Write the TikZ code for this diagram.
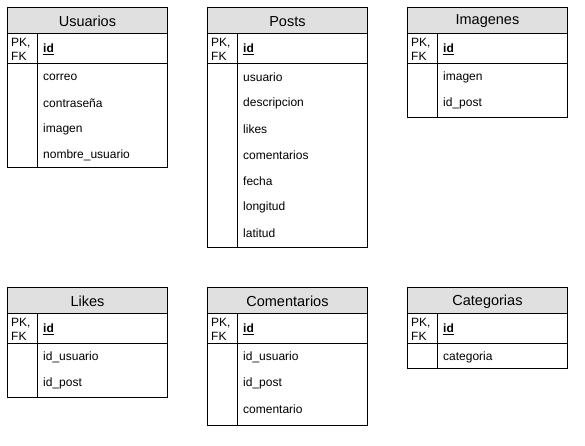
\documentclass[tikz,border=0pt]{standalone}
\usepackage{fontspec}
\setmainfont{Liberation Sans}
\definecolor{hdrgray}{HTML}{E0E0E0}
\tikzset{
  erdline/.style={draw=black, line width=0.9pt},
  hdr/.style={erdline, fill=hdrgray, minimum width=160pt, minimum height=26pt,
    anchor=north west, inner sep=0pt, font=\fontsize{14.5}{16}\selectfont},
  bodybox/.style={erdline, minimum width=160pt, anchor=north west, inner sep=0pt},
  pktext/.style={anchor=west, align=left, inner sep=0pt, font=\fontsize{12}{14}\selectfont},
  fldtext/.style={anchor=west, inner sep=0pt, font=\fontsize{12}{14}\selectfont},
}
% #1 name, #2 x, #3 y, #4 title, #5 body height, #6 fields
\newcommand\erdtable[6]{%
  \begin{scope}[shift={(#2,#3)}]
    \node[hdr] (#1-h) at (0,0) {};
    \node[inner sep=0pt, font=\fontsize{14.5}{16}\selectfont] (#1-t) at ([yshift=-1pt]#1-h.center) {#4};
    \node[bodybox, minimum height=30pt] (#1-pk) at (0,26) {};
    \node[bodybox, minimum height=#5pt] (#1-b) at (0,56) {};
    \draw[erdline] ([xshift=30pt]#1-pk.north west) -- ([xshift=30pt]#1-b.south west);
    \node[pktext] (#1-pkl) at ([xshift=4pt,yshift=-0.5pt]#1-pk.west) {PK,\\FK};
    \node[fldtext, font=\fontsize{12}{14}\selectfont\bfseries] (#1-id) at ([xshift=36pt,yshift=-0.5pt]#1-pk.west) {\underline{id}};
    \foreach \f [count=\i] in {#6}
      \node[fldtext] (#1-f\i) at ([xshift=36pt, yshift={-(14+(\i-1)*26)*1pt}]#1-b.north west) {\f};
  \end{scope}}
\begin{document}
\begin{tikzpicture}[x=1pt, y=-1pt]
  \useasboundingbox (0,0) rectangle (585,446);
  \erdtable{usuarios}{7}{7}{Usuarios}{104}{correo,contraseña,imagen,nombre\_usuario}
  \erdtable{posts}{207}{7}{Posts}{184}{usuario,descripcion,likes,comentarios,fecha,longitud,latitud}
  \erdtable{imagenes}{407}{7}{Imagenes}{54}{imagen,id\_post}
  \erdtable{likes}{7}{287}{Likes}{54}{id\_usuario,id\_post}
  \erdtable{comentarios}{207}{287}{Comentarios}{82}{id\_usuario,id\_post,comentario}
  \erdtable{categorias}{407}{287}{Categorias}{25}{categoria}
\end{tikzpicture}
\end{document}
